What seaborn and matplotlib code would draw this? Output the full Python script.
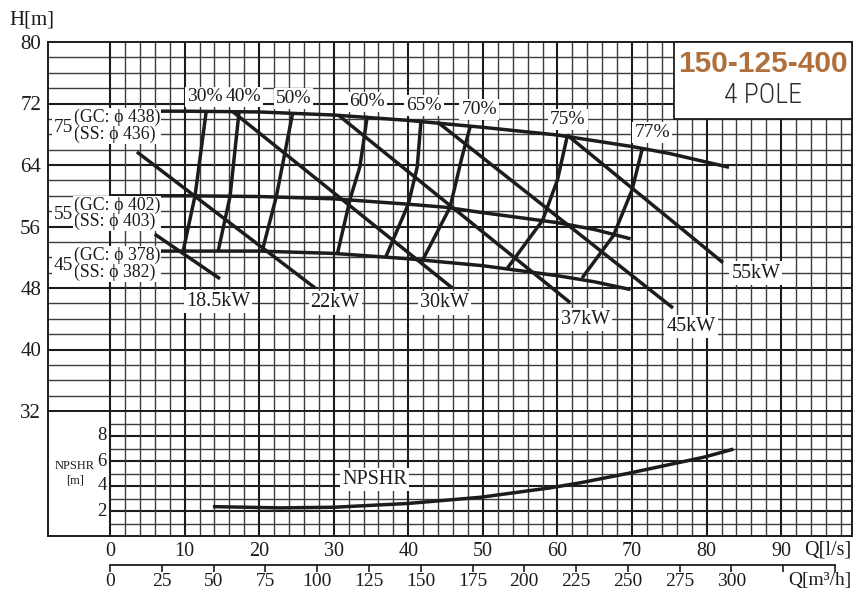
import numpy as np
import matplotlib
matplotlib.use("Agg")
import matplotlib.pyplot as plt
from matplotlib import font_manager
from matplotlib.patches import Rectangle
import seaborn as sns

sns.set_style("white")
plt.rcParams["font.family"] = ["Liberation Serif", "DejaVu Serif"]

# ---- head curves H(Q) for the three impeller diameters ----
q_75 = [0, 10, 20, 30, 40, 50, 60, 70, 75, 83]
h_75 = [71.0, 71.0, 70.9, 70.5, 69.8, 68.9, 67.9, 66.4, 65.5, 63.7]
q_55 = [0, 10, 20, 30, 40, 45, 50, 60, 65, 69.8]
h_55 = [60.0, 60.0, 59.9, 59.6, 58.9, 58.5, 57.8, 56.5, 55.6, 54.4]
q_45 = [0, 10, 20, 30, 40, 50, 60, 65, 69.8]
h_45 = [52.8, 52.8, 52.8, 52.5, 51.8, 50.9, 49.6, 48.8, 47.8]

# ---- iso-efficiency curves ----
eff_labels = ["30%", "40%", "50%", "60%", "65%", "70%", "75%", "77%"]
eff_q = [
    [9.8, 11.4, 12.9],
    [14.5, 16.1, 17.3],
    [20.4, 22.3, 24.5],
    [30.5, 32.2, 33.5, 34.5],
    [37.0, 40.0, 41.2, 41.7],
    [41.9, 45.6, 47.2, 48.3],
    [53.3, 58.0, 60.0, 61.3],
    [63.3, 67.5, 70.0, 71.4],
]
eff_h = [
    [52.8, 60.0, 71.0],
    [52.8, 59.95, 70.9],
    [52.8, 59.9, 70.8],
    [52.5, 59.6, 63.75, 70.4],
    [52.1, 58.9, 63.75, 69.8],
    [51.6, 58.5, 65.05, 69.0],
    [50.6, 56.8, 62.05, 67.7],
    [49.3, 54.8, 60.75, 66.2],
]

# ---- motor power lines ----
pw_labels = ["18.5kW", "22kW", "30kW", "37kW", "45kW", "55kW"]
pw_q = [[6.0, 14.75], [3.6, 27.5], [16.5, 45.9], [30.6, 61.7], [43.9, 75.5], [61.3, 82.2]]
pw_h = [[55.0, 49.2], [65.7, 48.0], [70.9, 48.0], [70.5, 46.1], [69.6, 45.4], [67.9, 51.3]]

# ---- NPSH required ----
npsh_q = [13.8, 22.8, 30.0, 39.9, 49.7, 59.0, 63.0, 69.8, 79.6, 83.6]
npsh_m = [2.35, 2.25, 2.3, 2.6, 3.1, 3.85, 4.25, 5.05, 6.3, 6.95]

# ---- axis ticks ----
h_ticks = [32, 40, 48, 56, 64, 72, 80]
npsh_ticks = [2, 4, 6, 8]
q_ticks = [0, 10, 20, 30, 40, 50, 60, 70, 80, 90]
m3h_ticks = [0, 25, 50, 75, 100, 125, 150, 175, 200, 225, 250, 275, 300, 325, 350]
m3h_labels = ["0", "25", "50", "75", "100", "125", "150", "175", "200", "225",
              "250", "275", "300", "", ""]

INK = "#1c1c1c"
GRID_MINOR = "#3c3c3c"
BOX = dict(boxstyle="square,pad=0.1", fc="white", ec="none")

# condensed face for the pole-count line when one is available
_names = {f.name for f in font_manager.fontManager.ttflist}
if "Liberation Sans Narrow" in _names:
    pole_family, pole_size = "Liberation Sans Narrow", 20
elif "Roboto Condensed" in _names:
    pole_family, pole_size = "Roboto Condensed", 20
else:
    pole_family, pole_size = "Liberation Sans", 17

W, H = 854, 591
fig = plt.figure(figsize=(W / 100, H / 100), dpi=100)
fig.patch.set_facecolor("white")

X0, X1 = -8.32, 99.5
ax_h = fig.add_axes([48 / W, 1 - 411 / H, 804 / W, 369 / H])
ax_n = fig.add_axes([48 / W, 1 - 536 / H, 804 / W, 125 / H])

for ax in (ax_h, ax_n):
    ax.set_xlim(X0, X1)
    for s in ax.spines.values():
        s.set_color(INK)
        s.set_linewidth(1.4)
    ax.set_xlabel("")
    ax.set_ylabel("")
ax_h.set_ylim(32, 80)
ax_n.set_ylim(0, 10)

# grid of the head panel: horizontal lines run through the left margin column
for y in np.arange(34, 80, 2):
    major = (y - 32) % 8 == 0
    ax_h.hlines(y, X0, X1, color=INK if major else GRID_MINOR,
                lw=1.5 if major else 1.0, zorder=1)
for x in np.arange(0, 99, 2):
    major = x % 10 == 0
    ax_h.vlines(x, 32, 80, color=INK if major else GRID_MINOR,
                lw=1.5 if major else 1.0, zorder=1)

# grid of the NPSHR panel starts at Q = 0
for y in np.arange(1, 10, 1):
    major = y % 2 == 0
    ax_n.hlines(y, 0, X1, color=INK if major else GRID_MINOR,
                lw=1.5 if major else 1.0, zorder=1)
for x in np.arange(0, 99, 2):
    major = x % 10 == 0
    ax_n.vlines(x, 0, 10, color=INK if major else GRID_MINOR,
                lw=1.5 if major else 1.0, zorder=1)


def curve(ax, q, v, lw=2.5):
    sns.lineplot(x=q, y=v, ax=ax, color=INK, linewidth=lw, sort=False,
                 estimator=None, legend=False, zorder=3,
                 solid_capstyle="butt")


for q, h in ((q_75, h_75), (q_55, h_55), (q_45, h_45)):
    curve(ax_h, q, h)
for q, h in zip(eff_q, eff_h):
    curve(ax_h, q, h)
for q, h in zip(pw_q, pw_h):
    curve(ax_h, q, h)
curve(ax_n, npsh_q, npsh_m)

# efficiency labels above the largest head curve
eff_pos = [(12.75, 72.85), (17.9, 72.85), (24.6, 72.6), (34.5, 72.2),
           (42.1, 71.7), (49.5, 71.2), (61.4, 69.9), (72.7, 68.2)]
for lab, (x, y) in zip(eff_labels, eff_pos):
    ax_h.text(x, y, lab, ha="center", va="center", fontsize=14,
              color=INK, bbox=BOX, zorder=4)

# power labels
pw_pos = [(14.5, 46.2), (30.2, 46.05), (44.9, 46.05), (63.8, 43.85),
          (77.9, 42.95), (86.6, 49.95)]
for lab, (x, y) in zip(pw_labels, pw_pos):
    ax_h.text(x, y, lab, ha="center", va="center", fontsize=14.5,
              color=INK, bbox=BOX, zorder=4)

# impeller diameter labels in the margin column
imp_sizes = ["75", "55", "45"]
imp_text = ["(GC: \u03d5 438)\n(SS: \u03d5 436)",
            "(GC: \u03d5 402)\n(SS: \u03d5 403)",
            "(GC: \u03d5 378)\n(SS: \u03d5 382)"]
imp_y = [69.1, 57.7, 51.1]
for size, txt, y in zip(imp_sizes, imp_text, imp_y):
    ax_h.text(-4.85, y, txt, ha="left", va="center", fontsize=12.8,
              color=INK, linespacing=0.95,
              bbox=dict(boxstyle="square,pad=0.05", fc="white", ec="none"),
              zorder=4)
    ax_h.text(-4.95, y - 0.2, size, ha="right", va="center", fontsize=14,
              color=INK, bbox=dict(boxstyle="square,pad=0.08", fc="white", ec="none"),
              zorder=4)

# NPSHR panel labels
ax_n.text(35.5, 4.5, "NPSHR", ha="center", va="center", fontsize=14.5,
          color=INK, bbox=BOX, zorder=4)
for v in npsh_ticks:
    ax_n.text(-0.45, v, str(v), ha="right", va="center", fontsize=13.5,
              color=INK, zorder=4)
ax_n.text(-4.7, 5.05, "NPSHR\n[m]", ha="center", va="center", fontsize=9,
          color=INK, linespacing=1.3)

# title box
ax_h.add_patch(Rectangle((75.6, 70.0), X1 - 75.6, 10.0, fc="white", ec=INK,
                         lw=1.3, zorder=5, clip_on=False))
ax_h.text(87.6, 77.1, "150-125-400", ha="center", va="center",
          fontsize=21.5, fontweight="bold", color="#b0703c",
          family=["Liberation Sans", "DejaVu Sans"], zorder=6)
ax_h.text(87.6, 73.0, "4 POLE", ha="center", va="center", fontsize=pole_size,
          fontweight="light", color="#2b2b2b",
          family=[pole_family, "DejaVu Sans"], zorder=6)

# head axis ticks
ax_h.set_yticks(h_ticks)
ax_h.set_yticklabels([str(t) for t in h_ticks])
ax_h.tick_params(axis="y", length=0, pad=5, labelsize=15, colors=INK)
ax_h.set_xticks([])
ax_n.set_yticks([])

# flow axis in l/s
ax_n.set_xticks(q_ticks)
ax_n.set_xticklabels([str(t) for t in q_ticks])
ax_n.tick_params(axis="x", length=0, pad=4, labelsize=14.5, colors=INK)

# flow axis in m3/h
sec = ax_n.secondary_xaxis(-0.232, functions=(lambda q: np.asarray(q) * 3.6,
                                              lambda m: np.asarray(m) / 3.6))
sec.set_xticks(m3h_ticks)
sec.set_xticklabels(m3h_labels)
sec.tick_params(axis="x", length=5, width=1.2, pad=1, labelsize=14,
                colors=INK, direction="out")
sec.spines["bottom"].set_bounds(0, 350)
sec.spines["bottom"].set_linewidth(1.3)
sec.spines["bottom"].set_color(INK)

fig.text(32 / W, 1 - 20 / H, "H[m]", ha="center", va="center", fontsize=15,
         color=INK)
fig.text(828 / W, 1 - 550 / H, "Q[l/s]", ha="center", va="center",
         fontsize=14.5, color=INK)
fig.text(820 / W, 1 - 581 / H, "Q[m\u00b3/h]", ha="center", va="center",
         fontsize=14, color=INK)

fig.savefig("out.png", dpi=100, facecolor="white")
